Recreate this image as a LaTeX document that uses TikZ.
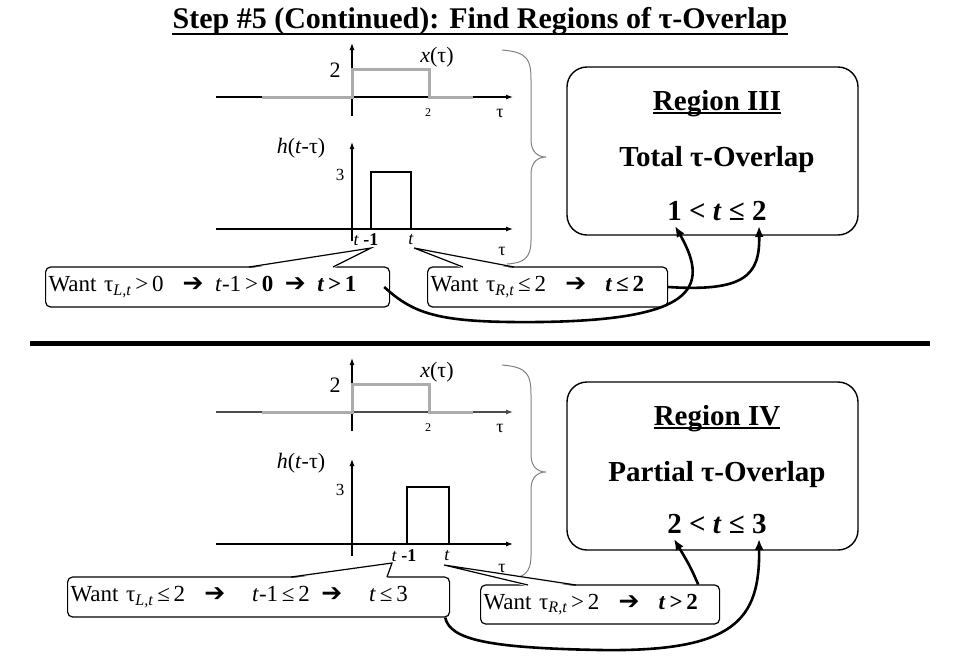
\documentclass[tikz,border=0pt]{standalone}
\usepackage{fontspec}
\setmainfont{Liberation Serif}
\newfontfamily\arrowfont{DejaVu Sans}
\newcommand{\thenarrow}{{\arrowfont\bfseries\fontsize{25}{25}\selectfont ➔}}
\usetikzlibrary{arrows.meta}

\begin{document}
\begin{tikzpicture}[x=1pt,y=-1pt,
    axis/.style={line width=1.2pt,-{Latex[length=7pt,width=5pt]}},
    xsig/.style={line width=3pt,gray!65},
    hsig/.style={line width=2.6pt},
    lbl/.style={inner sep=0pt,font=\fontsize{22}{24}\selectfont},
    tick/.style={inner sep=0pt,font=\fontsize{12}{14}\selectfont},
    callout/.style={draw,line width=1.2pt,rounded corners=5pt,anchor=west,
      inner xsep=3pt,minimum height=40pt,align=left,font=\fontsize{23}{25}\selectfont},
    pointer/.style={line width=1.2pt},
    regionbox/.style={draw,line width=1.4pt,rounded corners=20pt},
    big/.style={inner sep=0pt,anchor=base,font=\fontsize{29}{31}\selectfont\bfseries},
    link/.style={line width=2.6pt,-{Latex[length=11pt,width=9pt]}},
    brace/.style={gray,line width=1pt}]
  \useasboundingbox (0,0) rectangle (960,665);

  % title
  \node[big,font=\fontsize{30}{32}\selectfont\bfseries] (Title) at (480,28)
    {Step \#5 (Continued): Find Regions of τ-Overlap};
  \draw[line width=2.4pt] ([yshift=-6pt]Title.base west) -- ([yshift=-6pt]Title.base east);

  % top half: x(tau)
  \draw[axis] (216,97) -- (513,97);
  \draw[axis] (352,116) -- (352,43);
  \draw[xsig] (262,97) -- (352,97) -- (352,69) -- (429,69) -- (429,97) -- (473,97);
  \node[lbl] (TopXTwo) at (335,70) {2};
  \node[lbl] (TopXName) at (437,57) {\textit{x}(τ)};
  \node[tick] (TopXTick) at (428,113) {2};
  \node[lbl,font=\fontsize{18}{20}\selectfont] (TopXTau) at (500,113) {τ};

  % top half: h(t-tau)
  \draw[axis] (216,229) -- (513,229);
  \draw[axis] (352,241) -- (352,142);
  \draw[hsig] (277,229) -- (371,229) -- (371,172) -- (411,172) -- (411,229) -- (463,229);
  \node[lbl] (TopHName) at (301,148) {\textit{h}(\textit{t}-τ)};
  \node[lbl,font=\fontsize{17}{19}\selectfont] (TopHThree) at (340,175) {3};
  \node[lbl,font=\fontsize{18}{20}\selectfont] (TopTmOne) at (366,240) {\textit{t} \textbf{-1}};
  \node[lbl,font=\fontsize{18}{20}\selectfont] (TopT) at (411,240) {\textit{t}};
  \node[lbl,font=\fontsize{18}{20}\selectfont] (TopHTau) at (502,251) {τ};

  \draw[brace] (502,50) .. controls (528,52) and (531,60) .. (531,80) -- (531,140)
    .. controls (531,152) and (538,157) .. (546,157)
    .. controls (538,157) and (531,162) .. (531,174) -- (531,240)
    .. controls (531,258) and (524,263) .. (507,264);

  % top half: callouts
  \node[callout,text width=338pt] (CallA) at (45,287)
    {Want τ\textsubscript{\itshape L,t}\,>\,0\enspace\ \thenarrow\enspace\textit{t}-1\,>\,\textbf{0}\enspace\thenarrow\enspace\textbf{\textit{t}\,>\,1}};
  \node[callout,text width=234pt] (CallB) at (427,287)
    {Want τ\textsubscript{\itshape R,t}\,≤\,2\enspace\ \thenarrow\enspace\ \textbf{\textit{t}\,≤\,2}};
  \coordinate (TipA) at (371,248);
  \coordinate (TipB) at (414,248);
  \fill[white] (249,268.5) -- (TipA) -- (333,268.5) -- cycle;
  \draw[pointer] (249,267) -- (TipA) -- (333,267);
  \fill[white] (463,268.5) -- (TipB) -- (514,268.5) -- cycle;
  \draw[pointer] (463,267) -- (TipB) -- (514,267);

  % region III
  \node[regionbox,minimum width=291pt,minimum height=168pt] (BoxIII) at (712.5,151) {};
  \node[big] (RegIII) at (717,110) {Region III};
  \draw[line width=1.6pt] ([yshift=-3pt]RegIII.base west) -- ([yshift=-3pt]RegIII.base east);
  \node[big] (OverIII) at (717,166) {Total τ-Overlap};
  \node[big] (RangeIII) at (717,220) {1 < \textit{t} ≤ 2};

  \draw[link] ([xshift=-6pt]CallA.east) .. controls (415,315) and (440,323) .. (540,322)
    .. controls (690,320) and (712,290) .. ([xshift=-42pt,yshift=-6pt]RangeIII.base);
  \draw[link] (CallB.east) .. controls (745,292) and (760,275) .. ([xshift=42pt,yshift=-6pt]RangeIII.base);

  % separator
  \draw[line width=5pt] (30,343) -- (930,343);

  % bottom half: x(tau)
  \draw[axis,black!70] (216,412) -- (513,412);
  \draw[axis] (352,431) -- (352,358);
  \draw[xsig] (262,412) -- (352,412) -- (352,384) -- (429,384) -- (429,412) -- (473,412);
  \node[lbl] (BotXTwo) at (335,385) {2};
  \node[lbl] (BotXName) at (437,372) {\textit{x}(τ)};
  \node[tick] (BotXTick) at (428,428) {2};
  \node[lbl,font=\fontsize{18}{20}\selectfont] (BotXTau) at (500,428) {τ};

  % bottom half: h(t-tau)
  \draw[axis] (216,544) -- (513,544);
  \draw[axis] (352,556) -- (352,459);
  \draw[hsig] (315,544) -- (407,544) -- (407,487) -- (449,487) -- (449,544) -- (502,544);
  \node[lbl] (BotHName) at (301,463) {\textit{h}(\textit{t}-τ)};
  \node[lbl,font=\fontsize{17}{19}\selectfont] (BotHThree) at (340,490) {3};
  \node[lbl,font=\fontsize{18}{20}\selectfont] (BotTmOne) at (404,556) {\textit{t} \textbf{-1}};
  \node[lbl,font=\fontsize{18}{20}\selectfont] (BotT) at (447,556) {\textit{t}};
  \node[lbl,font=\fontsize{18}{20}\selectfont] (BotHTau) at (502,568) {τ};

  \draw[brace] (502,365) .. controls (528,367) and (531,375) .. (531,395) -- (531,455)
    .. controls (531,467) and (538,472) .. (546,472)
    .. controls (538,472) and (531,477) .. (531,489) -- (531,555)
    .. controls (531,573) and (524,578) .. (507,579);

  % bottom half: callouts
  \node[callout,text width=376pt] (CallC) at (67,597)
    {Want τ\textsubscript{\itshape L,t}\,≤\,2\enspace\ \thenarrow\enspace\ \ \textit{t}-1\,≤\,2\enspace\thenarrow\enspace\ \ \textit{t}\,≤\,3};
  \node[callout,text width=233pt,minimum height=39pt] (CallD) at (480,604.5)
    {Want τ\textsubscript{\itshape R,t}\,>\,2\enspace\ \thenarrow\enspace\ \textbf{\textit{t}\,>\,2}};
  \coordinate (TipC) at (392,563);
  \coordinate (TipD) at (444,565);
  \fill[white] (291,578.5) -- (TipC) -- (387,578.5) -- cycle;
  \draw[pointer] (291,577) -- (TipC) -- (387,577);
  \fill[white] (528,586.5) -- (TipD) -- (576,586.5) -- cycle;
  \draw[pointer] (528,585) -- (TipD) -- (576,585);

  % region IV
  \node[regionbox,minimum width=291pt,minimum height=168pt] (BoxIV) at (712.5,466) {};
  \node[big] (RegIV) at (717,425) {Region IV};
  \draw[line width=1.6pt] ([yshift=-3pt]RegIV.base west) -- ([yshift=-3pt]RegIV.base east);
  \node[big] (OverIV) at (717,481) {Partial τ-Overlap};
  \node[big] (RangeIV) at (717,533) {2 < \textit{t} ≤ 3};

  \draw[link] ([xshift=-22pt]CallD.north east) .. controls (690,566) .. ([xshift=-43pt,yshift=-6pt]RangeIV.base);
  \draw[link] ([xshift=-5pt]CallC.south east) .. controls (450,640) and (490,648) .. (600,650)
    .. controls (735,652) and (760,620) .. ([xshift=42pt,yshift=-6pt]RangeIV.base);
\end{tikzpicture}
\end{document}
